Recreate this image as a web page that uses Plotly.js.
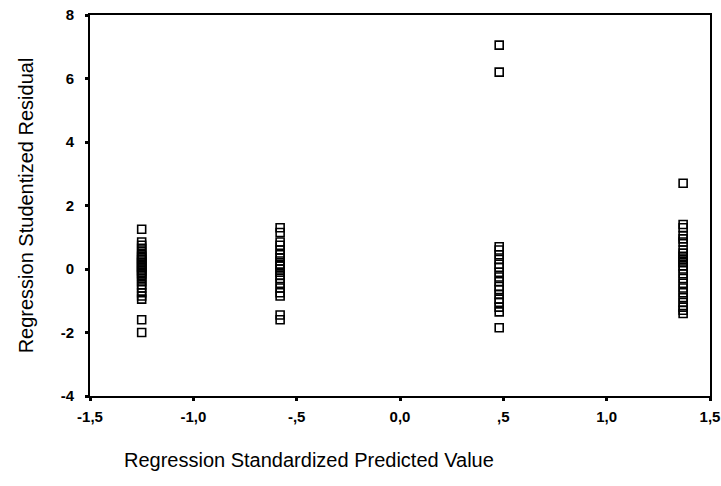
<!DOCTYPE html>
<html>
<head>
<meta charset="utf-8">
<script src="https://cdn.plot.ly/plotly-3.0.1.min.js"></script>
<style>html,body{margin:0;padding:0;background:#fff;}#chart{width:721px;height:486px;}</style>
</head>
<body>
<div id="chart"></div>
<script>
// Predicted value groups (x) and studentized residuals (y)
const groupX = [-1.25, -0.58, 0.48, 1.37];
const residG1 = [1.25, 0.85, 0.75, 0.65, 0.55, 0.45, 0.4, 0.35, 0.3, 0.25, 0.2, 0.15, 0.1, 0.05, 0.0, -0.05, -0.1, -0.15, -0.2, -0.3, -0.4, -0.5, -0.6, -0.75, -0.85, -0.95, -1.6, -2.0];
const residG2 = [1.3, 1.15, 0.85, 0.75, 0.6, 0.45, 0.35, 0.25, 0.15, 0.1, 0.0, -0.1, -0.2, -0.3, -0.45, -0.6, -0.75, -0.85, -1.45, -1.6];
const residG3 = [7.05, 6.2, 0.7, 0.6, 0.45, 0.3, 0.15, 0.05, -0.1, -0.25, -0.4, -0.55, -0.65, -0.8, -0.95, -1.05, -1.2, -1.35, -1.85];
const residG4 = [2.7, 1.4, 1.3, 1.05, 0.95, 0.85, 0.6, 0.5, 0.4, 0.3, 0.2, 0.1, 0.0, -0.15, -0.3, -0.45, -0.6, -0.75, -0.9, -1.05, -1.2, -1.3, -1.4];
const residGroups = [residG1, residG2, residG3, residG4];
const xTickVals = [-1.5, -1.0, -0.5, 0.0, 0.5, 1.0, 1.5];
const xTickText = ["-1,5", "-1,0", "-,5", "0,0", ",5", "1,0", "1,5"];
const yTickVals = [-4, -2, 0, 2, 4, 6, 8];
const yTickText = ["-4", "-2", "0", "2", "4", "6", "8"];

const xs = [], ys = [];
residGroups.forEach((g, i) => g.forEach(v => { xs.push(groupX[i]); ys.push(v); }));

const trace = {
  x: xs, y: ys, type: 'scatter', mode: 'markers',
  marker: {symbol: 'square-open', size: 8, color: '#000', line: {width: 1.6, color: '#000'}},
  hoverinfo: 'none', showlegend: false
};

const fam = 'Arial, Liberation Sans, sans-serif';
const tickFont = {family: fam, size: 15, color: '#000', weight: 'bold'};
const layout = {
  width: 721, height: 486,
  margin: {l: 90, r: 11, t: 15, b: 90},
  paper_bgcolor: '#fff', plot_bgcolor: '#fff',
  xaxis: {
    range: [-1.5, 1.5], tickvals: xTickVals, ticktext: xTickText,
    showgrid: false, zeroline: false, showline: true, linecolor: '#000', linewidth: 2, mirror: true,
    ticks: 'outside', ticklen: 3, tickwidth: 3, tickcolor: '#000', tickfont: tickFont, ticklabelstandoff: 3
  },
  yaxis: {
    range: [-4, 8], tickvals: yTickVals, ticktext: yTickText,
    showgrid: false, zeroline: false, showline: true, linecolor: '#000', linewidth: 2, mirror: true,
    ticks: 'outside', ticklen: 3, tickwidth: 3, tickcolor: '#000', tickfont: tickFont, ticklabelstandoff: 8,
    title: {text: 'Regression Studentized Residual', font: {family: fam, size: 20, color: '#000'}, standoff: 22}
  },
  annotations: [{
    text: 'Regression Standardized Predicted Value', xref: 'paper', yref: 'paper',
    x: 0.353, y: -0.168, xanchor: 'center', yanchor: 'middle', showarrow: false,
    font: {family: fam, size: 20, color: '#000'}
  }]
};
Plotly.newPlot('chart', [trace], layout, {displayModeBar: false, staticPlot: true});
</script>
</body>
</html>
